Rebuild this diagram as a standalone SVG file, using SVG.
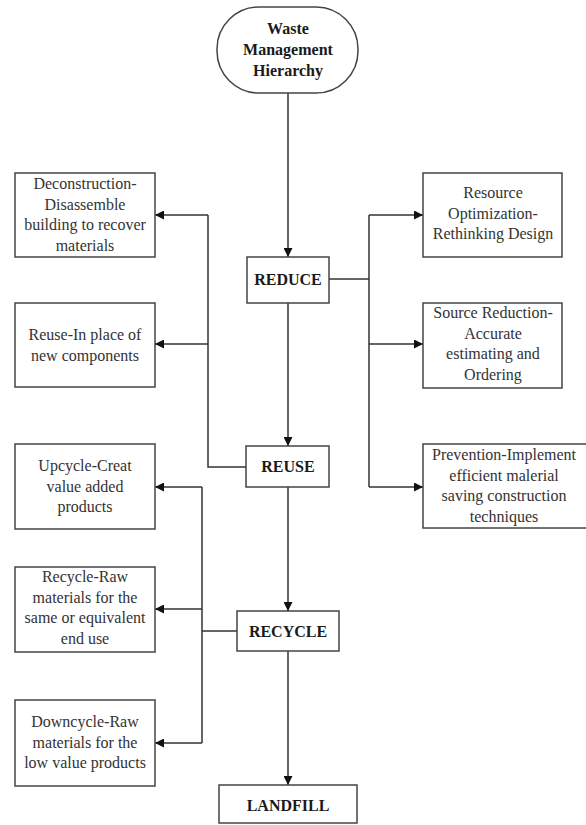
<svg xmlns="http://www.w3.org/2000/svg" width="586" height="825" viewBox="0 0 586 825">
<style>
.box{fill:#fff;stroke:#444;stroke-width:1.5}
.t{font-family:"Liberation Serif","Times New Roman",serif;font-size:16px;fill:#333;text-anchor:middle}
.b{font-family:"Liberation Serif","Times New Roman",serif;font-size:16px;font-weight:bold;fill:#1a1a1a;text-anchor:middle}
.c{fill:none;stroke:#333;stroke-width:1.5}
</style>
<defs>
<marker id="ah" viewBox="0 0 10 10" refX="10" refY="5" markerWidth="10" markerHeight="9" markerUnits="userSpaceOnUse" orient="auto">
<path d="M0,0 L10,5 L0,10 Z" fill="#111"/>
</marker>
</defs>
<g id="connectors">
<path class="c" d="M288,93 V257" marker-end="url(#ah)"/>
<path class="c" d="M288,303 V446" marker-end="url(#ah)"/>
<path class="c" d="M288,487 V611" marker-end="url(#ah)"/>
<path class="c" d="M288,651 V785" marker-end="url(#ah)"/>
<path class="c" d="M329,279 H369"/>
<path class="c" d="M369,215 V487"/>
<path class="c" d="M369,215 H423" marker-end="url(#ah)"/>
<path class="c" d="M369,344 H423" marker-end="url(#ah)"/>
<path class="c" d="M369,487 H423" marker-end="url(#ah)"/>
<path class="c" d="M246,467 H208 V215"/>
<path class="c" d="M208,215 H155" marker-end="url(#ah)"/>
<path class="c" d="M208,344 H155" marker-end="url(#ah)"/>
<path class="c" d="M237,631 H202"/>
<path class="c" d="M202,487 V743"/>
<path class="c" d="M202,487 H155" marker-end="url(#ah)"/>
<path class="c" d="M202,609 H155" marker-end="url(#ah)"/>
<path class="c" d="M202,743 H155" marker-end="url(#ah)"/>
</g>
<g id="start">
<rect class="box" x="217" y="7" width="141" height="86" rx="42" ry="42"/>
<text class="b"><tspan x="288" y="34">Waste</tspan><tspan x="288" y="55">Management</tspan><tspan x="288" y="76">Hierarchy</tspan></text>
</g>
<g id="reduce">
<rect class="box" x="247" y="257" width="82" height="46"/>
<text class="b" x="288" y="285">REDUCE</text>
</g>
<g id="reuse">
<rect class="box" x="246" y="446" width="83" height="41"/>
<text class="b" x="288" y="472">REUSE</text>
</g>
<g id="recycle">
<rect class="box" x="237" y="611" width="102" height="40"/>
<text class="b" x="288" y="637">RECYCLE</text>
</g>
<g id="landfill">
<rect class="box" x="219" y="785" width="138" height="38"/>
<text class="b" x="288" y="811">LANDFILL</text>
</g>
<g id="deconstruction">
<rect class="box" x="15" y="173" width="140" height="84"/>
<text class="t"><tspan x="85" y="189">Deconstruction-</tspan><tspan x="85" y="210">Disassemble</tspan><tspan x="85" y="230">building to recover</tspan><tspan x="85" y="251">materials</tspan></text>
</g>
<g id="reuse-in">
<rect class="box" x="15" y="303" width="140" height="84"/>
<text class="t"><tspan x="85" y="340">Reuse-In place of</tspan><tspan x="85" y="361">new components</tspan></text>
</g>
<g id="upcycle">
<rect class="box" x="15" y="444" width="140" height="85"/>
<text class="t"><tspan x="85" y="471">Upcycle-Creat</tspan><tspan x="85" y="492">value added</tspan><tspan x="85" y="512">products</tspan></text>
</g>
<g id="recycle-raw">
<rect class="box" x="15" y="567" width="140" height="85"/>
<text class="t"><tspan x="85" y="582">Recycle-Raw</tspan><tspan x="85" y="603">materials for the</tspan><tspan x="85" y="623">same or equivalent</tspan><tspan x="85" y="644">end use</tspan></text>
</g>
<g id="downcycle">
<rect class="box" x="15" y="700" width="140" height="86"/>
<text class="t"><tspan x="85" y="727">Downcycle-Raw</tspan><tspan x="85" y="748">materials for the</tspan><tspan x="85" y="768">low value products</tspan></text>
</g>
<g id="resource">
<rect class="box" x="423" y="173" width="139" height="84"/>
<text class="t"><tspan x="493" y="198">Resource</tspan><tspan x="493" y="219">Optimization-</tspan><tspan x="493" y="239">Rethinking Design</tspan></text>
</g>
<g id="source">
<rect class="box" x="423" y="303" width="139" height="85"/>
<text class="t"><tspan x="493" y="318">Source Reduction-</tspan><tspan x="493" y="339">Accurate</tspan><tspan x="493" y="359">estimating and</tspan><tspan x="493" y="380">Ordering</tspan></text>
</g>
<g id="prevention">
<rect class="box" x="423" y="444" width="168" height="84"/>
<text class="t"><tspan x="504" y="460">Prevention-Implement</tspan><tspan x="504" y="481">efficient malerial</tspan><tspan x="504" y="501">saving construction</tspan><tspan x="504" y="522">techniques</tspan></text>
</g>
</svg>
